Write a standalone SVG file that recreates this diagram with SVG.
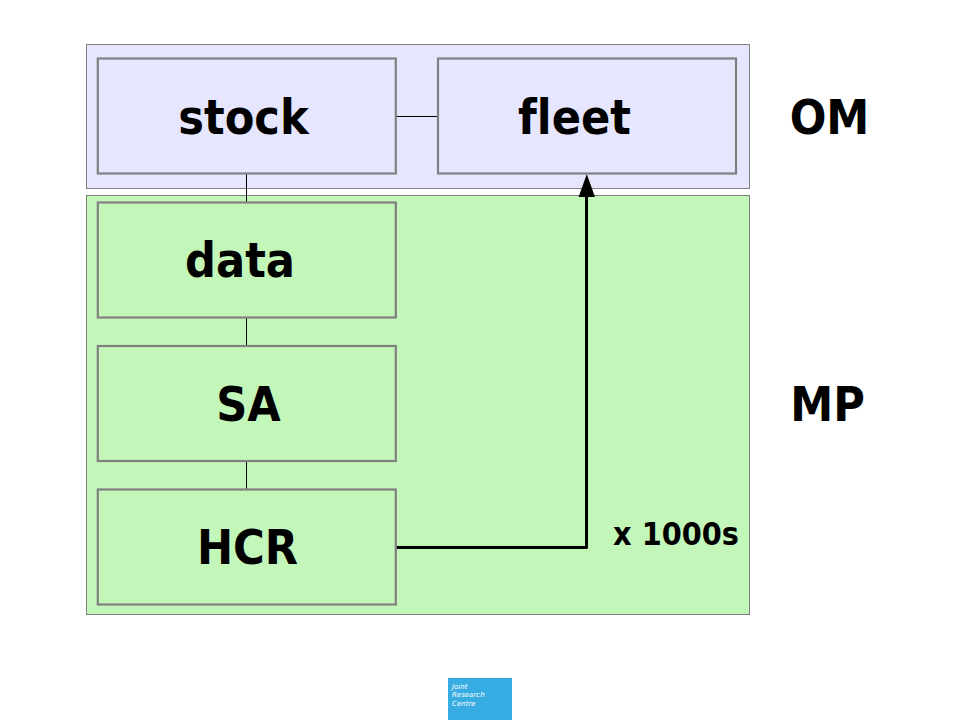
<svg xmlns="http://www.w3.org/2000/svg" width="960" height="720" viewBox="0 0 960 720">
<style>
.om{fill:#e6e6ff;stroke:#808080;stroke-width:1}
.mp{fill:#c3f7ba;stroke:#808080;stroke-width:1}
.n{stroke:#808080;stroke-width:2.200}
.t{font-family:"DejaVu Sans",sans-serif;font-stretch:condensed;font-weight:bold;fill:#000;text-anchor:middle;font-variant-ligatures:none}
.c{fill:none;stroke:#000;stroke-width:1}
.h{fill:none;stroke:#000;stroke-width:3;stroke-linejoin:round}
.l{font-family:"DejaVu Sans",sans-serif;font-style:italic;font-size:7px;fill:#fff}
</style>
<g id="frame-om"><rect class="om" x="86.500" y="44.500" width="663" height="144"/></g>
<g id="frame-mp"><rect class="mp" x="86.500" y="195.500" width="663" height="419"/></g>
<g id="connectors">
<path class="c" d="M395 116.500H438M246.500 174V202M246.500 318V346M246.500 462V490"/>
<path class="h" d="M395 547.500H586.500V196"/>
<path d="M586.800 174L595 197H578.600Z" fill="#000"/>
</g>
<g id="stock"><rect class="n" fill="#e6e6ff" x="97.800" y="58.500" width="298" height="115"/><text class="t" x="243.500" y="134" font-size="48">stock</text></g>
<g id="fleet"><rect class="n" fill="#e6e6ff" x="438" y="58.500" width="298" height="115"/><text class="t" x="574.500" y="134" font-size="48">fleet</text></g>
<g id="data"><rect class="n" fill="#c3f7ba" x="97.800" y="202.500" width="298" height="115"/><text class="t" x="240" y="277" font-size="48">data</text></g>
<g id="SA"><rect class="n" fill="#c3f7ba" x="97.800" y="346" width="298" height="115"/><text class="t" x="248.500" y="421" font-size="48">SA</text></g>
<g id="HCR"><rect class="n" fill="#c3f7ba" x="97.800" y="489.500" width="298" height="115"/><text class="t" x="247.500" y="564" font-size="48">HCR</text></g>
<g id="labels">
<text class="t" x="829.500" y="134" font-size="48">OM</text>
<text class="t" x="827.500" y="421" font-size="48">MP</text>
<text class="t" x="676" y="545" font-size="32">x 1000s</text>
</g>
<g id="logo"><rect x="448" y="678" width="64" height="42" fill="#36ace2"/>
<text class="l" x="452" y="689">Joint</text>
<text class="l" x="452" y="697">Research</text>
<text class="l" x="452" y="706">Centre</text></g>
</svg>
